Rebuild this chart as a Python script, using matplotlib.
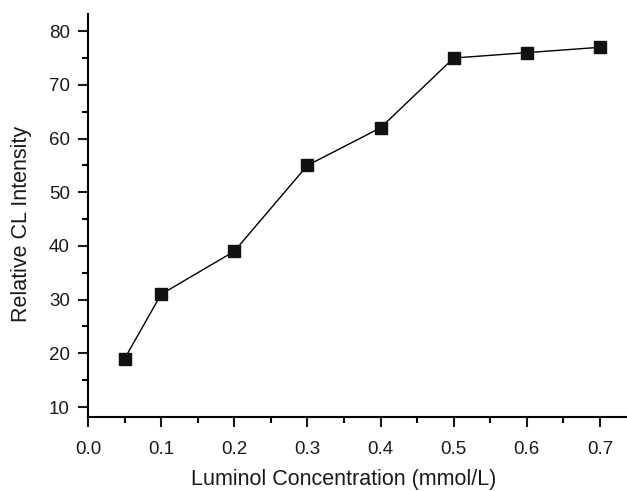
import matplotlib as mpl
mpl.use('Agg')
import matplotlib.pyplot as plt
from matplotlib.ticker import MultipleLocator

plt.rcParams['font.family'] = ['Liberation Sans', 'DejaVu Sans']

conc = [0.05, 0.1, 0.2, 0.3, 0.4, 0.5, 0.6, 0.7]
intensity = [19, 31, 39, 55, 62, 75, 76, 77]

fig = plt.figure(figsize=(6.27, 4.91), dpi=100)
ax = fig.add_axes([88/627, 1 - 417/491, (626 - 88)/627, (417 - 14)/491])

ax.plot(conc, intensity, color='black', lw=1, marker='s', markersize=8.5,
        markerfacecolor='#111111', markeredgecolor='#111111')

ax.set_xlim(0, 0.7356)
ax.set_ylim(8.14, 83.2)
ax.xaxis.set_major_locator(MultipleLocator(0.1))
ax.xaxis.set_minor_locator(MultipleLocator(0.05))
ax.yaxis.set_major_locator(MultipleLocator(10))
ax.yaxis.set_minor_locator(MultipleLocator(5))
ax.xaxis.set_major_formatter(mpl.ticker.FormatStrFormatter('%.1f'))

for s in ['top', 'right']:
    ax.spines[s].set_visible(False)
for s in ['left', 'bottom']:
    ax.spines[s].set_linewidth(1.5)
ax.tick_params(which='major', direction='out', length=7, width=1.5, labelsize=13.5, colors='#1a1a1a')
ax.tick_params(axis='x', which='major', pad=10)
ax.tick_params(axis='y', which='major', pad=6)
ax.tick_params(which='minor', direction='out', length=4, width=1.5)

ax.set_xlabel('Luminol Concentration (mmol/L)', fontsize=15.5, color='#1a1a1a')
ax.set_ylabel('Relative CL Intensity', fontsize=15.5, color='#1a1a1a', va='center')
ax.xaxis.set_label_coords(0.476, -0.130)
ax.yaxis.set_label_coords(-0.124, 0.478)

fig.savefig('out.png', dpi=100)
